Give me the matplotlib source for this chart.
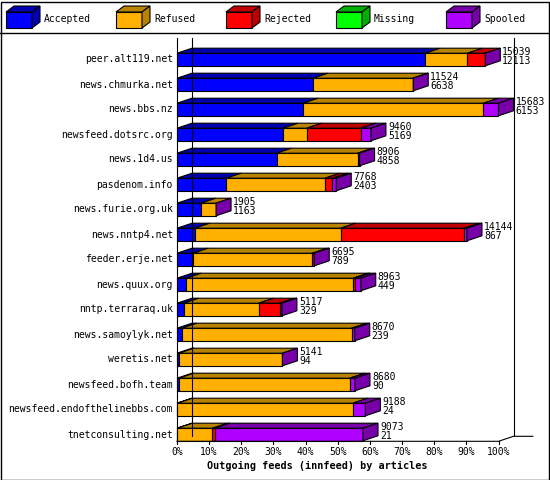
import matplotlib
matplotlib.use("Agg")
import matplotlib.pyplot as plt
from matplotlib.patches import Polygon, Rectangle

feeds = ["peer.alt119.net", "news.chmurka.net", "news.bbs.nz", "newsfeed.dotsrc.org",
         "news.1d4.us", "pasdenom.info", "news.furie.org.uk", "news.nntp4.net",
         "feeder.erje.net", "news.quux.org", "nntp.terraraq.uk", "news.samoylyk.net",
         "weretis.net", "newsfeed.bofh.team", "newsfeed.endofthelinebbs.com",
         "tnetconsulting.net"]
accepted = [12113, 6638, 6153, 5169, 4858, 2403, 1163, 867, 789, 449, 329, 239, 94, 90, 24, 21]
refused = [2056, 4876, 8798, 1161, 3951, 4818, 742, 7119, 5817, 8147, 3657, 8278, 5047, 8335, 8553, 1708]
rejected = [870, 10, 0, 2636, 0, 361, 0, 6037, 89, 78, 1020, 0, 0, 0, 0, 110]
missing = [0] * 16
spooled = [0, 0, 732, 494, 97, 186, 0, 121, 0, 289, 111, 153, 0, 255, 611, 7234]

series = ["Accepted", "Refused", "Rejected", "Missing", "Spooled"]
front = ["#0000ff", "#ffb000", "#ff0000", "#00ff00", "#b000ff"]
dark = ["#0000b0", "#b88400", "#c00000", "#00b000", "#7800a8"]
ticks = list(range(0, 101, 10))

fig = plt.figure(figsize=(5.5, 4.8), dpi=100)
ax = fig.add_axes([0, 0, 1, 1])
PX, PY = 3.215, 25.0  # pixels per percent / per row
ax.set_xlim(-177 / PX, (550 - 177) / PX)
ax.set_ylim((480 - 59.5) / PY, -59.5 / PY)
ax.axis("off")
FONT = "DejaVu Sans Mono"
FS = 7.0
DX, DY, H = 15 / PX, 5 / PY, 6.3 / PY
lw = 0.8

# frame and legend separator
fig.patches.append(Rectangle((0.5 / 550, 0.5 / 480), 548 / 550, 478 / 480, transform=fig.transFigure,
                             fill=False, edgecolor="black", lw=1))
ax.plot([-177 / PX, 373 / PX], [(33 - 59.5) / PY] * 2, color="black", lw=1)

# walls / floor
floor = len(feeds) - 1 + H + 0.02
ax.plot([DX, DX], [(38 - 59.5) / PY, floor - DY], color="black", lw=lw)
ax.plot([100 + DX, 100 + DX], [(38 - 59.5) / PY, floor - DY], color="black", lw=lw)
ax.plot([0, 100, 100 + DX, 100 + DX + 6], [floor, floor, floor - DY, floor - DY], color="black", lw=lw)
ax.plot([0, 0], [(38 - 59.5) / PY, floor], color="black", lw=lw)
for t in ticks:
    ax.plot([t, t], [floor, floor + 3 / PY], color="black", lw=lw)
    ax.text(t, floor + 6 / PY, f"{t}%", ha="center", va="top", fontsize=FS, family=FONT)
ax.text(50 - 20 / PX, floor + 20 / PY, "Outgoing feeds (innfeed) by articles", ha="center", va="top",
        fontsize=FS + 0.3, family=FONT, fontweight="bold")

data = [accepted, refused, rejected, missing, spooled]
totals = [sum(d[i] for d in data) for i in range(len(feeds))]
mx = max(totals)
for i, name in enumerate(feeds):
    r = i
    ax.text(-4 / PX, r, name, ha="right", va="center", fontsize=FS, family=FONT)
    x = 0.0
    for k, d in enumerate(data):
        w = d[i] / mx * 100
        if w <= 0:
            continue
        ax.add_patch(Rectangle((x, r - H), w, 2 * H, facecolor=front[k], edgecolor="black", lw=lw))
        ax.add_patch(Polygon([(x, r - H), (x + w, r - H), (x + w + DX, r - H - DY), (x + DX, r - H - DY)],
                             facecolor=dark[k], edgecolor="black", lw=lw))
        x += w
    e = x
    ax.add_patch(Polygon([(e, r - H), (e + DX, r - H - DY), (e + DX, r + H - DY), (e, r + H)],
                         facecolor=dark[4], edgecolor="black", lw=lw))
    ax.text(e + DX + 2 / PX, r - 0.12, f"{totals[i]}\n{accepted[i]}", ha="left", va="center",
            fontsize=FS, family=FONT, linespacing=0.95)

# legend
lg = fig.add_axes([0, 0, 1, 1])
lg.set_xlim(0, 550)
lg.set_ylim(480, 0)
lg.axis("off")
for k, s in enumerate(series):
    x0 = 6 + 110 * k
    lg.add_patch(Rectangle((x0, 12), 26, 16, facecolor=front[k], edgecolor="black", lw=lw))
    lg.add_patch(Polygon([(x0, 12), (x0 + 26, 12), (x0 + 34, 6), (x0 + 8, 6)],
                         facecolor=dark[k], edgecolor="black", lw=lw))
    lg.add_patch(Polygon([(x0 + 26, 12), (x0 + 34, 6), (x0 + 34, 22), (x0 + 26, 28)],
                         facecolor=dark[k], edgecolor="black", lw=lw))
    lg.text(x0 + 38, 19, s, ha="left", va="center", fontsize=FS, family=FONT)

fig.savefig("out.png", dpi=100)
